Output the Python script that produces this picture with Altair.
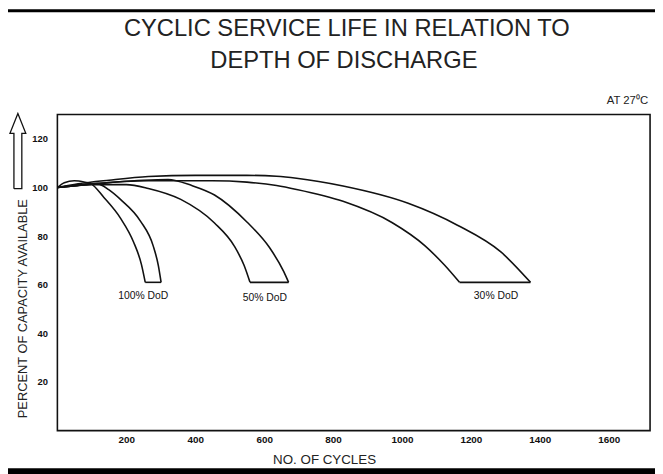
import altair as alt
import pandas as pd

# ---------------- data ----------------
x_ticks = [200, 400, 600, 800, 1000, 1200, 1400, 1600]
y_ticks = [20, 40, 60, 80, 100, 120]

bands = ["100% DoD", "50% DoD", "30% DoD"]

# inner (left) and outer (right) edge of each band: cycles / % capacity
in100_x = [0, 20, 49, 80, 97, 135, 183, 221, 244, 255]
in100_y = [100, 102, 102.8, 102.2, 101.6, 95.9, 87.4, 77.6, 68.3, 61]
out100_x = [0, 50, 115, 150, 183, 241, 278, 293, 301]
out100_y = [100, 100.8, 101.6, 99, 95.1, 86.2, 76.0, 67.9, 61]

in50_x = [0, 100, 200, 264, 358, 456, 513, 542, 559]
in50_y = [100, 101.2, 101.2, 99.6, 95.1, 85.4, 76.0, 67.9, 61]
out50_x = [0, 150, 250, 321, 390, 456, 550, 616, 657, 671]
out50_y = [100, 102, 103, 103.3, 100.8, 96.9, 85.8, 75.2, 65.4, 61]

in30_x = [0, 100, 264, 450, 550, 636, 694, 829, 972, 1067, 1124, 1167]
in30_y = [100, 101.5, 102.8, 102.8, 102.2, 100.8, 99.2, 94.3, 85.5, 76, 68, 61]
out30_x = [0, 60, 150, 264, 400, 550, 636, 694, 829, 1018, 1161, 1287, 1373]
out30_y = [100, 101.5, 103, 104.5, 105, 105, 104.6, 103.8, 100.6, 93.5, 84.5, 73.5, 61]

label_text = ["100%  DoD", "50%  DoD", "30%  DoD"]
label_x = [249, 602, 1273]
label_y = [55.3, 54.5, 55.3]

temp_note = "AT 27\u2070C"
title_lines = ["CYCLIC SERVICE LIFE IN RELATION TO", "DEPTH OF DISCHARGE"]

# hollow arrow beside the y-axis title (pixel offsets from plot origin)
arrow_px = [-44, -44, -48, -40, -32, -36, -36, -44]
arrow_py = [75, 19, 19, -1, 19, 19, 75, 75]

# ---------------- build tables ----------------
rows = []
curves = {
    "100% DoD": (in100_x, in100_y, out100_x, out100_y),
    "50% DoD": (in50_x, in50_y, out50_x, out50_y),
    "30% DoD": (in30_x, in30_y, out30_x, out30_y),
}
for b in bands:
    ix, iy, ox, oy = curves[b]
    segs = {
        "inner": list(zip(ix, iy)),
        "outer": list(zip(ox, oy)),
        "bottom": [(ix[-1], iy[-1]), (ox[-1], oy[-1])],
    }
    for sname, pts in segs.items():
        for k, (cx, cy) in enumerate(pts):
            rows.append({"seg": b + " " + sname, "order": k, "cycles": cx, "capacity": cy})
df = pd.DataFrame(rows)

lab_df = pd.DataFrame({"label": label_text, "cycles": label_x, "capacity": label_y})
arrow_df = pd.DataFrame({"ax": arrow_px, "ay": arrow_py, "ao": list(range(len(arrow_px)))})

FONT = "Liberation Sans"

x_enc = alt.X(
    "cycles:Q",
    scale=alt.Scale(domain=[0, 1720], nice=False, zero=False),
    axis=alt.Axis(
        values=x_ticks, format="d", title="NO. OF CYCLES", labelFontSize=10,
        labelFontWeight="bold", labelColor="#111", labelPadding=4, labelBaseline="top",
        titleFontSize=13.5, titleFontWeight="normal", titleColor="#222",
        titleX=270, titleY=29, titleBaseline="middle", titleAlign="center",
    ),
)
y_enc = alt.Y(
    "capacity:Q",
    scale=alt.Scale(domain=[0, 130], nice=False, zero=False),
    axis=alt.Axis(
        values=y_ticks, title="PERCENT OF CAPACITY AVAILABLE", labelFontSize=9.5,
        labelFontWeight="bold", labelColor="#111", labelPadding=10,
        titleFontSize=13, titleFontWeight="normal", titleColor="#222",
        titleX=-35, titleY=196, titleBaseline="middle", titleAlign="center", titleAngle=270,
    ),
)

lines = alt.Chart(df).mark_line(
    color="#111", strokeWidth=1.6, clip=False, interpolate="monotone"
).encode(x=x_enc, y=y_enc, detail="seg:N", order="order:Q")

labels = alt.Chart(lab_df).mark_text(
    fontSize=10.5, color="#111", font=FONT, align="center", baseline="middle"
).encode(x="cycles:Q", y="capacity:Q", text="label:N")

arrow = alt.Chart(arrow_df).mark_line(color="#111", strokeWidth=1.3, clip=False).encode(
    x=alt.X("ax:Q", scale=None, axis=None),
    y=alt.Y("ay:Q", scale=None, axis=None),
    order="ao:Q",
)

note = alt.Chart(pd.DataFrame({"t": [temp_note]})).mark_text(
    fontSize=11.5, color="#222", font=FONT, align="right", baseline="middle"
).encode(x=alt.value(598), y=alt.value(-14), text="t:N")

title1 = alt.Chart(pd.DataFrame({"t": [title_lines[0]]})).mark_text(
    fontSize=24, color="#222", font=FONT, align="center", baseline="middle"
).encode(x=alt.value(293), y=alt.value(-87), text="t:N")
title2 = alt.Chart(pd.DataFrame({"t": [title_lines[1]]})).mark_text(
    fontSize=24, color="#222", font=FONT, align="center", baseline="middle"
).encode(x=alt.value(290), y=alt.value(-54), text="t:N")

one = pd.DataFrame({"a": [0]})
bottom_band = alt.Chart(one).mark_rule(color="black", strokeWidth=6).encode(
    x=alt.value(-50), x2=alt.value(605), y=alt.value(361)
)
top_band = alt.Chart(one).mark_rule(color="black", strokeWidth=3).encode(
    x=alt.value(-50), x2=alt.value(605), y=alt.value(-105)
)

chart = (
    alt.layer(lines, labels, arrow, note, title1, title2, bottom_band, top_band)
    .properties(
        width=600,
        height=320,
        autosize=alt.AutoSizeParams(type="none"),
        padding={"left": 50, "top": 105, "right": 5, "bottom": 41},
    )
    .configure(font=FONT, background="white")
    .configure_view(stroke="#111", strokeWidth=1.6)
    .configure_axis(domain=False, ticks=False, grid=False, labelFont=FONT, titleFont=FONT)
)

chart.save("out.html", embed_options={"renderer": "svg", "actions": False})
